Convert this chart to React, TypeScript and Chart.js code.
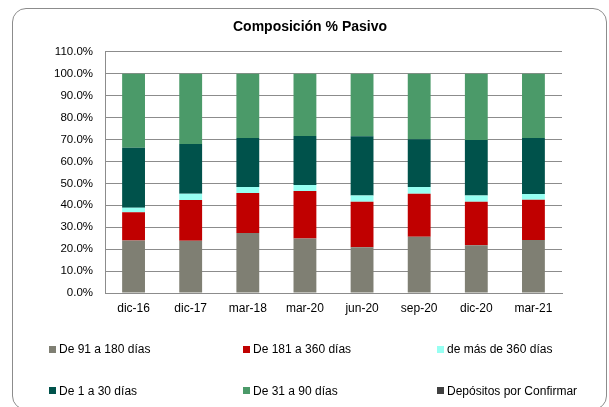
import React, { useEffect, useRef } from "react";
import { Chart, registerables } from "chart.js";

Chart.register(...registerables);

const categories = ["dic-16", "dic-17", "mar-18", "mar-20", "jun-20", "sep-20", "dic-20", "mar-21"];
const de91a180 = [23.9, 23.8, 27.4, 24.8, 20.9, 25.7, 21.8, 24.2];
const de181a360 = [12.9, 18.6, 18.2, 21.7, 20.7, 19.6, 19.8, 18.3];
const masDe360 = [2.1, 2.9, 2.7, 2.7, 2.9, 3.0, 2.9, 2.6];
const de1a30 = [27.3, 22.7, 22.4, 22.4, 27.0, 21.8, 25.3, 25.6];
const de31a90 = [33.8, 32.0, 29.3, 28.4, 28.5, 29.9, 30.2, 29.3];
const depositos = [0, 0, 0, 0, 0, 0, 0, 0];

const seriesLabels = [
  "De 91 a 180 días",
  "De 181 a 360 días",
  "de más de 360 días",
  "De 1 a 30 días",
  "De 31 a 90 días",
  "Depósitos por Confirmar",
];
const seriesValues = [de91a180, de181a360, masDe360, de1a30, de31a90, depositos];
const seriesColors = ["#7f7f73", "#c00000", "#97fff2", "#00524b", "#4b9a69", "#404040"];

const yTicksMax = 110;
const yTicksStep = 10;

const FONT = "'Liberation Sans', Arial, sans-serif";

export default function App() {
  const canvasRef = useRef<HTMLCanvasElement | null>(null);

  useEffect(() => {
    const canvas = canvasRef.current;
    if (!canvas) return;
    const chart = new Chart(canvas, {
      type: "bar",
      data: {
        labels: categories,
        datasets: seriesLabels.map((label, i) => ({
          label,
          data: seriesValues[i],
          backgroundColor: seriesColors[i],
          borderWidth: 0,
          stack: "s",
          barPercentage: 0.4,
          categoryPercentage: 1,
        })),
      },
      options: {
        animation: false,
        responsive: true,
        maintainAspectRatio: false,
        layout: { padding: { left: 11, right: 0, top: 0, bottom: 0 } },
        plugins: {
          legend: { display: false },
          tooltip: { enabled: false },
          title: {
            display: true,
            text: "Composición % Pasivo",
            color: "#000",
            font: { family: FONT, size: 14, weight: "bold", lineHeight: 1.2 },
            padding: { top: 19, bottom: 16 },
          },
        },
        scales: {
          x: {
            stacked: true,
            grid: { display: false, drawTicks: false },
            border: { display: true, color: "#8c8c8c", width: 1 },
            ticks: {
              color: "#000",
              font: { family: FONT, size: 12 },
              padding: 8,
              maxRotation: 0,
              autoSkip: false,
            },
            afterFit: (scale: any) => {
              scale.height = 114;
            },
          },
          y: {
            stacked: true,
            min: 0,
            max: yTicksMax,
            grid: { color: "#8c8c8c", lineWidth: 1, drawTicks: false },
            border: { display: true, color: "#8c8c8c", width: 1 },
            ticks: {
              stepSize: yTicksStep,
              color: "#000",
              font: { family: FONT, size: 11.5 },
              padding: 12,
              callback: (v: any) => Number(v).toFixed(1) + "%",
            },
            afterFit: (scale: any) => {
              scale.width = 94;
            },
          },
          yRight: {
            position: "right",
            display: true,
            grid: { display: false, drawTicks: false },
            border: { display: false },
            ticks: { display: false },
            afterFit: (scale: any) => {
              scale.width = 47;
            },
          },
        },
      },
    } as any);
    return () => chart.destroy();
  }, []);

  const colX = [49, 243, 437];
  const rowY = [349, 390.5];

  return (
    <div style={{ position: "fixed", left: 0, top: 0, width: 609, height: 407, background: "#fff", overflow: "hidden" }}>
      <canvas ref={canvasRef} style={{ display: "block" }} />
      <div
        style={{
          position: "absolute",
          left: 12,
          top: 8,
          width: 595,
          height: 402,
          border: "1.5px solid #8c8c8c",
          borderRadius: 14,
          boxSizing: "border-box",
          pointerEvents: "none",
        }}
      />
      {seriesLabels.map((label, i) => {
        const col = i % 3;
        const row = Math.floor(i / 3);
        return (
          <div
            key={label}
            style={{
              position: "absolute",
              left: colX[col],
              top: rowY[row] - 8,
              height: 16,
              display: "flex",
              alignItems: "center",
              fontFamily: FONT,
              fontSize: 12,
              color: "#000",
              whiteSpace: "nowrap",
            }}
          >
            <span
              style={{
                display: "inline-block",
                width: 7,
                height: 7,
                background: seriesColors[i],
                marginRight: 3,
              }}
            />
            <span>{label}</span>
          </div>
        );
      })}
    </div>
  );
}
